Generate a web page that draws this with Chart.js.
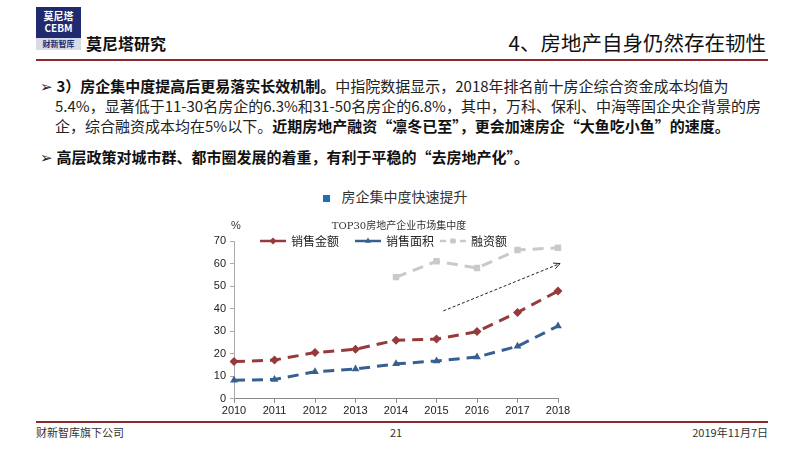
<!DOCTYPE html>
<html>
<head>
<meta charset="utf-8">
<script src="https://cdn.jsdelivr.net/npm/chart.js@4/dist/chart.umd.min.js"></script>
<style>
  body { margin: 0; width: 800px; height: 450px; background: #fff; position: relative; overflow: hidden;
         font-family: "Noto Sans CJK SC", "Noto Sans", sans-serif; color: #222; }
  .abs { position: absolute; }
  #logo-top { left: 36px; top: 7px; width: 45px; height: 31px; background: #1f2b6e; color: #fff;
              text-align: center; font-size: 10px; line-height: 12px; font-weight: bold; padding-top: 3px; box-sizing: border-box; }
  #logo-bot { left: 36px; top: 38px; width: 45px; height: 12px; background: #d8dbe6; color: #1f2b6e;
              text-align: center; font-size: 8px; line-height: 12px; font-weight: bold; }
  #brand { left: 86px; top: 31px; font-size: 16px; font-weight: bold; color: #111; }
  #title { right: 34px; top: 27px; font-size: 20.5px; color: #111; }
  .rule { left: 36px; width: 732px; height: 2px; background: #8c2a2e; }
  .para { left: 40px; font-size: 15px; line-height: 20px; color: #222; width: 760px; white-space: nowrap; letter-spacing: 0; }
  .para b { color: #111; }
  #sub { left: 0; width: 790px; top: 186px; text-align: center; font-size: 14px; color: #333; }
  #sub span { display: inline-block; width: 7px; height: 7px; background: #1e6fb5; margin-right: 12px; vertical-align: middle; }
  #wrap { left: 195px; top: 212px; width: 385px; height: 208px; }
  .foot { top: 424px; font-size: 11px; color: #333; }
</style>
</head>
<body>
<div class="abs" id="logo-top">莫尼塔<br>CEBM</div>
<div class="abs" id="logo-bot">财新智库</div>
<div class="abs" id="brand">莫尼塔研究</div>
<div class="abs" id="title">4、房地产自身仍然存在韧性</div>
<div class="abs rule" style="top:59px"></div>

<div class="abs para" style="top:76px">
  ➢ <b>3）房企集中度提高后更易落实长效机制。</b>中指院数据显示，2018年排名前十房企综合资金成本均值为<br>
  <span style="padding-left:15px">5.4%，显著低于11-30名房企的6.3%和31-50名房企的6.8%，其中，万科、保利、中海等国企央企背景的房</span><br>
  <span style="padding-left:15px">企，综合融资成本均在5%以下。<b>近期房地产融资“凛冬已至”，更会加速房企“大鱼吃小鱼”的速度。</b></span>
</div>
<div class="abs para" style="top:147px">➢ <b>高层政策对城市群、都市圈发展的着重，有利于平稳的“去房地产化”。</b></div>

<div class="abs" id="sub"><span></span>房企集中度快速提升</div>

<div class="abs" id="wrap"><canvas id="chart" width="385" height="208"></canvas></div>

<div class="abs rule" style="top:421px"></div>
<div class="abs foot" style="left:36px">财新智库旗下公司</div>
<div class="abs foot" style="left:390px">21</div>
<div class="abs foot" style="right:32px">2019年11月7日</div>

<script>
const years = ['2010', '2011', '2012', '2013', '2014', '2015', '2016', '2017', '2018'];
const salesValue = [16.5, 17.2, 20.5, 22.0, 26.0, 26.5, 29.8, 38.3, 47.8];
const salesArea = [8.2, 8.6, 12.0, 13.2, 15.5, 16.8, 18.5, 23.3, 32.3];
const financing = [null, null, null, null, 54.0, 61.0, 58.0, 66.0, 67.0];
const seriesNames = ['销售金额', '销售面积', '融资额'];
const yTicks = [0, 10, 20, 30, 40, 50, 60, 70];
// trend arrow, in (category index, %) units
const arrowFrom = [5.17, 39];
const arrowTo = [8.05, 60];

const colors = ['#963a3c', '#36608f', '#c9c9c9'];
const markers = ['rectRot', 'triangle', 'rect'];

const overlay = {
    id: 'overlay',
    afterDraw(chart) {
        const ctx = chart.ctx;
        const xs = chart.scales.x, ys = chart.scales.y;
        const area = chart.chartArea;
        ctx.save();

        // inner title and unit
        ctx.fillStyle = '#333';
        ctx.font = '10px "DejaVu Serif", "Noto Sans CJK SC", serif';
        ctx.textAlign = 'center';
        ctx.textBaseline = 'middle';
        ctx.fillText('TOP30房地产企业市场集中度', area.left + 165, area.top - 15);
        ctx.textAlign = 'left';
        ctx.font = '11px "Liberation Sans", sans-serif';
        ctx.fillText('%', area.left - 3, area.top - 15);

        // legend: short line with marker, then name
        const starts = [area.left + 26, area.left + 121, area.left + 206];
        seriesNames.forEach((name, i) => {
            const x0 = starts[i], y0 = area.top;
            ctx.strokeStyle = colors[i];
            ctx.lineWidth = 2.5;
            ctx.setLineDash(i === 2 ? [6, 4] : []);
            ctx.beginPath();
            ctx.moveTo(x0, y0);
            ctx.lineTo(x0 + 26, y0);
            ctx.stroke();
            ctx.setLineDash([]);
            ctx.fillStyle = colors[i];
            Chart.helpers.drawPoint(ctx, { pointStyle: markers[i], radius: 3.5, rotation: 0 }, x0 + 13, y0);
            ctx.fillStyle = '#222';
            ctx.font = '12px "Noto Sans CJK SC", sans-serif';
            ctx.fillText(name, x0 + 31, y0);
        });

        // dashed trend arrow
        const ax = xs.getPixelForValue(arrowFrom[0]), ay = ys.getPixelForValue(arrowFrom[1]);
        const bx = xs.getPixelForValue(arrowTo[0]), by = ys.getPixelForValue(arrowTo[1]);
        ctx.strokeStyle = '#222';
        ctx.lineWidth = 1;
        ctx.setLineDash([3, 2]);
        ctx.beginPath();
        ctx.moveTo(ax, ay);
        ctx.lineTo(bx, by);
        ctx.stroke();
        ctx.setLineDash([]);
        const ang = Math.atan2(by - ay, bx - ax);
        ctx.beginPath();
        ctx.moveTo(bx - 7 * Math.cos(ang - 0.45), by - 7 * Math.sin(ang - 0.45));
        ctx.lineTo(bx, by);
        ctx.lineTo(bx - 7 * Math.cos(ang + 0.45), by - 7 * Math.sin(ang + 0.45));
        ctx.stroke();
        ctx.restore();
    }
};

function makeSet(i, data) {
    return {
        label: seriesNames[i],
        data: data,
        borderColor: colors[i],
        backgroundColor: colors[i],
        borderWidth: 3,
        borderDash: [11, 7],
        pointStyle: markers[i],
        pointRadius: 4.5,
        pointBorderWidth: 0,
        tension: 0,
        spanGaps: false
    };
}

new Chart(document.getElementById('chart'), {
    type: 'line',
    data: {
        labels: years,
        datasets: [makeSet(0, salesValue), makeSet(1, salesArea), makeSet(2, financing)]
    },
    options: {
        responsive: false,
        animation: false,
        layout: { padding: { top: 29, right: 22, left: 0, bottom: 0 } },
        plugins: { legend: { display: false }, tooltip: { enabled: false } },
        scales: {
            x: {
                offset: false,
                grid: { display: true, drawOnChartArea: false, tickLength: 4, color: '#888' },
                border: { color: '#888' },
                ticks: { color: '#222', font: { size: 11, family: 'Liberation Sans' }, padding: 2, maxRotation: 0 }
            },
            y: {
                min: 0, max: 70,
                afterFit: (s) => { s.width = 39; },
                afterBuildTicks: (s) => { s.ticks = yTicks.map(v => ({ value: v })); },
                grid: { display: true, drawOnChartArea: false, tickLength: 4, color: '#aaa' },
                border: { color: '#aaa' },
                ticks: { color: '#222', font: { size: 11, family: 'Liberation Sans' }, padding: 4 }
            }
        }
    },
    plugins: [overlay]
});
</script>
</body>
</html>
